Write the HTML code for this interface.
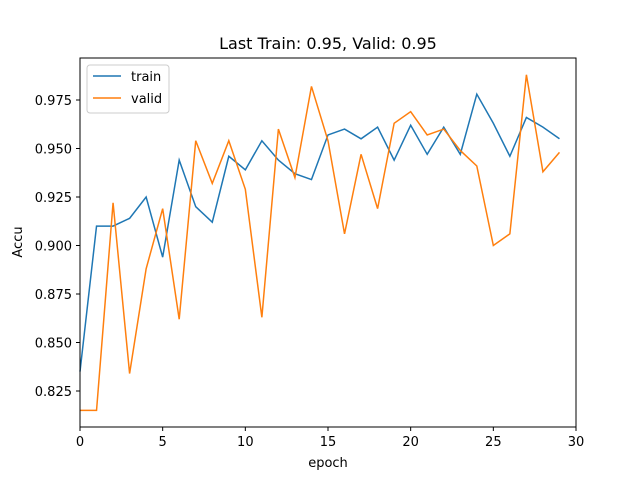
<!DOCTYPE html>
<html><head><meta charset="utf-8"><style>
body{margin:0;background:#fff}
svg text{font-family:"DejaVu Sans","Liberation Sans",sans-serif;fill:#000}
</style></head><body>
<svg id="chart" width="640" height="480" viewBox="0 0 640 480">
<rect x="0" y="0" width="640" height="480" fill="#fff"/>
<text x="328" y="49" font-size="16" text-anchor="middle">Last Train: 0.95, Valid: 0.95</text>
<g id="xticks"></g>
<g id="yticks"></g>
<g id="lines"></g>
<rect x="80" y="58" width="496" height="369" fill="none" stroke="#000" stroke-width="1"/>
<text x="328" y="467" font-size="13" text-anchor="middle">epoch</text>
<text x="22" y="242" font-size="13" text-anchor="middle" transform="rotate(-90 22 242)">Accu</text>
<g>
<rect x="87" y="65" width="82" height="48" rx="3" fill="#fff" stroke="#ccc"/>
<g><line x1="93" y1="76" x2="121" y2="76" stroke="#1f77b4" stroke-width="1.5"/><text x="131" y="81" font-size="13">train</text></g>
<g><line x1="93" y1="98" x2="121" y2="98" stroke="#ff7f0e" stroke-width="1.5"/><text x="131" y="103" font-size="13">valid</text></g>
</g>
</svg>
<script>
const xTicks=[0,5,10,15,20,25,30];
const yTicks=[0.825,0.850,0.875,0.900,0.925,0.950,0.975];
const trainAcc=[0.835,0.910,0.910,0.914,0.925,0.894,0.944,0.920,0.912,0.946,0.939,0.954,0.944,0.937,0.934,0.957,0.960,0.955,0.961,0.944,0.962,0.947,0.961,0.947,0.978,0.963,0.946,0.966,0.961,0.955];
const validAcc=[0.815,0.815,0.922,0.834,0.888,0.919,0.862,0.954,0.932,0.954,0.929,0.863,0.960,0.935,0.982,0.954,0.906,0.947,0.919,0.963,0.969,0.957,0.960,0.949,0.941,0.900,0.906,0.988,0.938,0.948];
const NS='http://www.w3.org/2000/svg';
function xs(v){return 80+v*(496/30);}
function ys(v){return 391-(v-0.825)*1940;}
const xg=document.getElementById('xticks'),yg=document.getElementById('yticks'),lg=document.getElementById('lines');
xTicks.forEach(t=>{
 const l=document.createElementNS(NS,'line');
 l.setAttribute('x1',xs(t));l.setAttribute('x2',xs(t));l.setAttribute('y1',427);l.setAttribute('y2',431);l.setAttribute('stroke','#000');
 
 
 xg.appendChild(l);
 const tx=document.createElementNS(NS,'text');
 tx.setAttribute('x',xs(t));tx.setAttribute('y',446);tx.setAttribute('font-size','13');tx.setAttribute('text-anchor','middle');tx.textContent=t;
 
 
 xg.appendChild(tx);
});
yTicks.forEach(t=>{
 const l=document.createElementNS(NS,'line');
 l.setAttribute('x1',76);l.setAttribute('x2',80);l.setAttribute('y1',ys(t));l.setAttribute('y2',ys(t));l.setAttribute('stroke','#000');
 
 
 yg.appendChild(l);
 const tx=document.createElementNS(NS,'text');
 tx.setAttribute('x',72);tx.setAttribute('y',ys(t)+5);tx.setAttribute('font-size','13');tx.setAttribute('text-anchor','end');tx.textContent=t.toFixed(3);
 
 
 yg.appendChild(tx);
});
function drawLine(arr,color,name){
 const p=document.createElementNS(NS,'polyline');
 p.setAttribute('points',arr.map((v,i)=>xs(i)+','+ys(v)).join(' '));
 p.setAttribute('fill','none');p.setAttribute('stroke',color);p.setAttribute('stroke-width','1.5');
 
 
 lg.appendChild(p);
}
drawLine(trainAcc,'#1f77b4','train-line');
drawLine(validAcc,'#ff7f0e','valid-line');
</script>
</body></html>
